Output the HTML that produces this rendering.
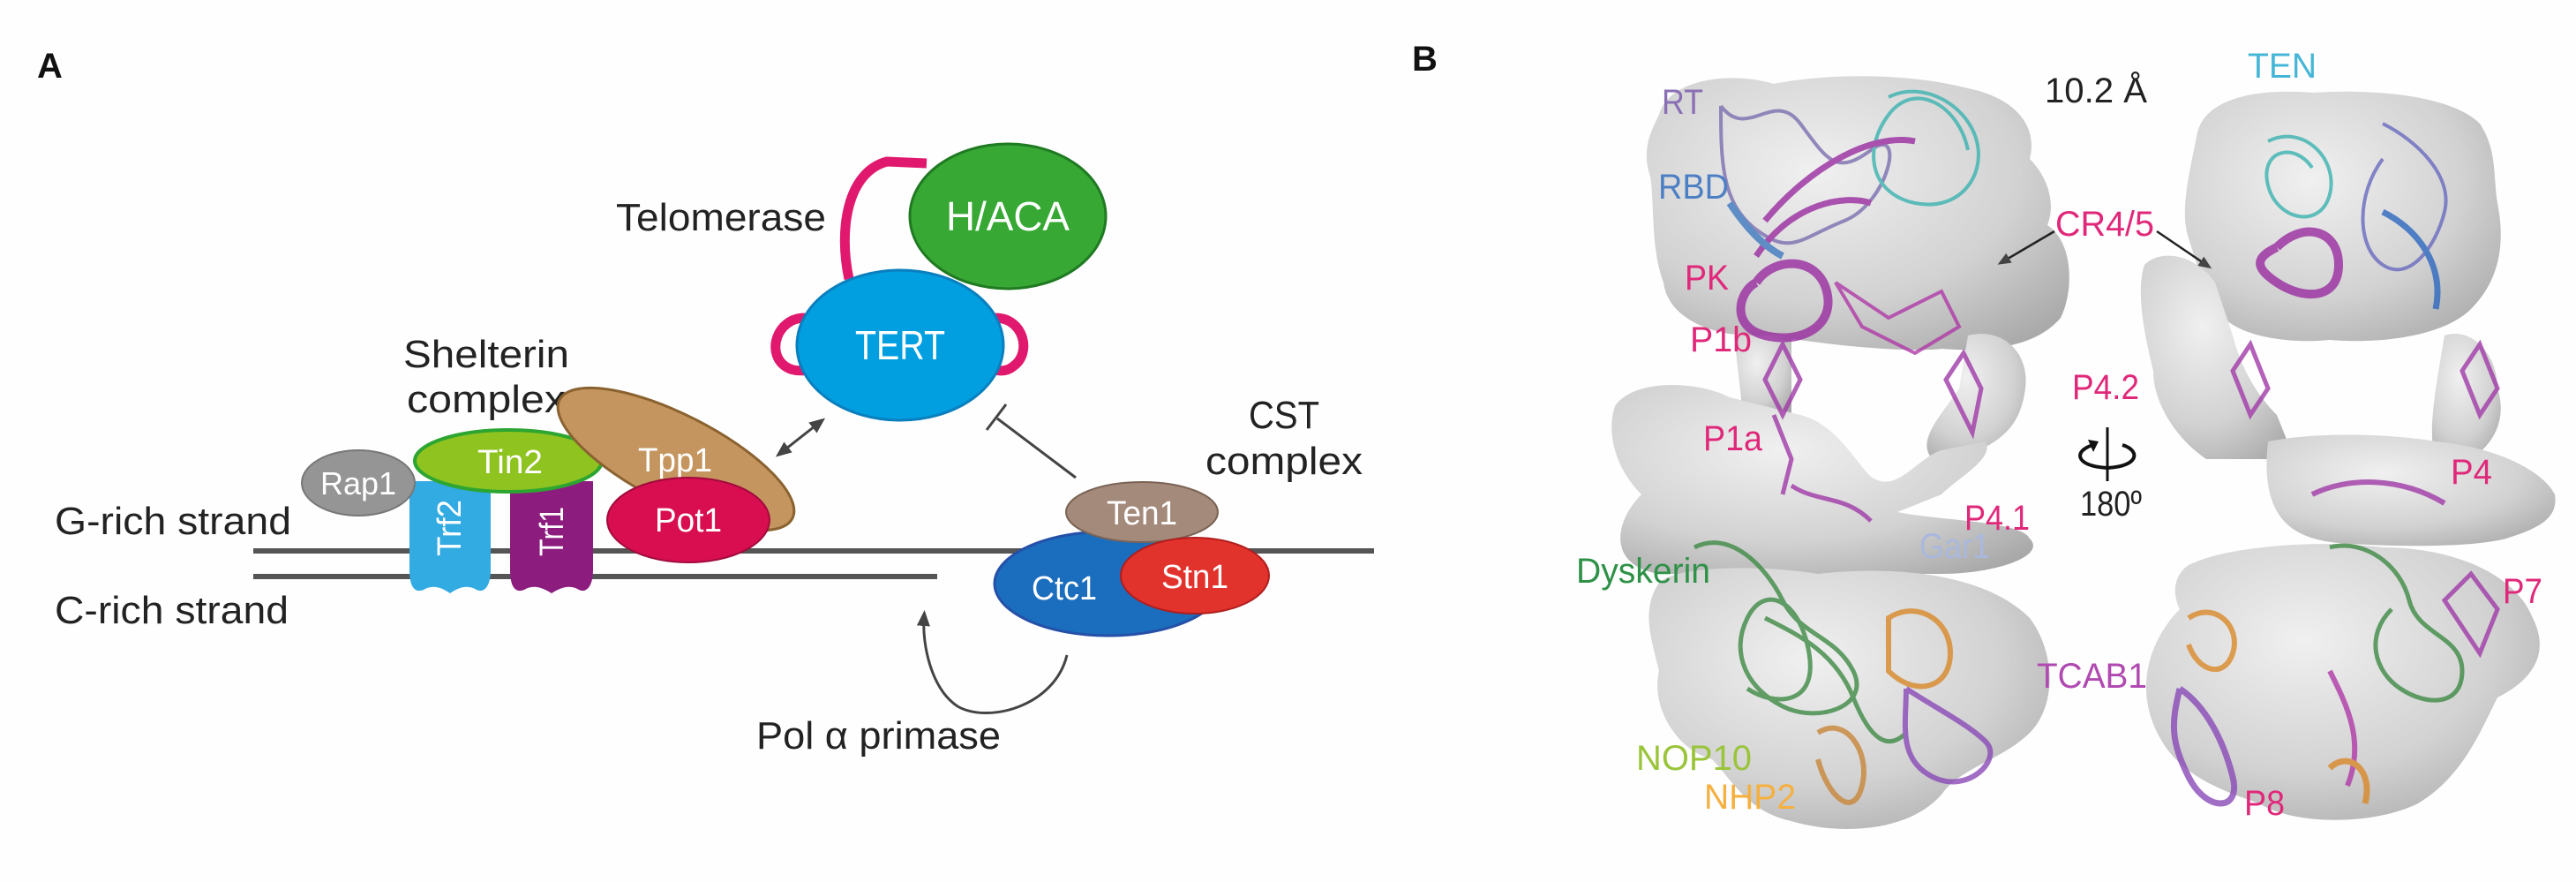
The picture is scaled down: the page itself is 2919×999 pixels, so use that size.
<!DOCTYPE html>
<html><head><meta charset="utf-8"><style>
html,body{margin:0;padding:0;background:#fefefe;}
svg{display:block;}
.a{font-family:"Liberation Sans",sans-serif;}
</style></head><body>
<svg width="2919" height="999" viewBox="0 0 2919 999" xmlns="http://www.w3.org/2000/svg">
<defs>
<radialGradient id="g" cx="0.4" cy="0.35" r="0.8">
<stop offset="0" stop-color="#f0f0f0"/><stop offset="0.6" stop-color="#d2d2d2"/><stop offset="1" stop-color="#a8a8a8"/>
</radialGradient>
<marker id="ah" markerWidth="6" markerHeight="6" refX="3" refY="3" orient="auto-start-reverse"><path d="M0,0.5 L6,3 L0,5.5 z" fill="#444"/></marker>
</defs>
<rect width="2919" height="999" fill="#fefefe"/>
<g class="a">
<text x="42" y="88" font-size="40" font-weight="bold" fill="#111">A</text>
<text x="1600" y="80" font-size="40" font-weight="bold" fill="#111">B</text>

<!-- DNA strands -->
<line x1="287" y1="624" x2="1557" y2="624" stroke="#555" stroke-width="6"/>
<line x1="287" y1="653" x2="1062" y2="653" stroke="#555" stroke-width="6"/>
<text x="62" y="605" font-size="44" fill="#222" textLength="268" lengthAdjust="spacingAndGlyphs">G-rich strand</text>
<text x="62" y="706" font-size="44" fill="#222" textLength="265" lengthAdjust="spacingAndGlyphs">C-rich strand</text>

<!-- telomerase -->
<path d="M962 316 C950 260 960 195 1005 183 L1050 185" fill="none" stroke="#e0196e" stroke-width="11"/>
<path d="M912 360 C880 360 868 400 890 415 C900 422 912 420 920 418" fill="none" stroke="#e0196e" stroke-width="11"/>
<path d="M1128 360 C1160 360 1170 400 1148 415 C1140 422 1130 420 1122 418" fill="none" stroke="#e0196e" stroke-width="11"/>
<ellipse cx="1142" cy="245" rx="111" ry="82" fill="#37a833" stroke="#1f7a22" stroke-width="3"/>
<text x="1142" y="261" font-size="46" fill="#fff" text-anchor="middle" textLength="140" lengthAdjust="spacingAndGlyphs">H/ACA</text>
<ellipse cx="1020" cy="391" rx="117" ry="85" fill="#019ee0" stroke="#0a7fbe" stroke-width="3"/>
<text x="1020" y="407" font-size="46" fill="#fff" text-anchor="middle" textLength="102" lengthAdjust="spacingAndGlyphs">TERT</text>
<text x="698" y="261" font-size="44" fill="#222" textLength="238" lengthAdjust="spacingAndGlyphs">Telomerase</text>

<!-- shelterin -->
<text x="551" y="416" font-size="44" fill="#222" text-anchor="middle" textLength="188" lengthAdjust="spacingAndGlyphs">Shelterin</text>
<text x="551" y="467" font-size="44" fill="#222" text-anchor="middle" textLength="180" lengthAdjust="spacingAndGlyphs">complex</text>
<path d="M464 545 L556 545 L556 645 C556 665 548 672 540 668 C530 662 520 665 510 672 C500 665 490 662 480 668 C470 672 464 665 464 645 Z" fill="#32aae2"/>
<text transform="translate(522,630) rotate(-90)" font-size="38" fill="#fff" textLength="64" lengthAdjust="spacingAndGlyphs">Trf2</text>
<path d="M578 545 L672 545 L672 645 C672 665 664 672 656 668 C646 662 636 665 625 672 C614 665 604 662 594 668 C584 672 578 665 578 645 Z" fill="#8c1c7e"/>
<text transform="translate(638,630) rotate(-90)" font-size="38" fill="#fff" textLength="56" lengthAdjust="spacingAndGlyphs">Trf1</text>
<ellipse cx="406" cy="547" rx="64" ry="37" fill="#959595" stroke="#777" stroke-width="2"/>
<text x="406" y="560" font-size="36" fill="#fff" text-anchor="middle" textLength="86" lengthAdjust="spacingAndGlyphs">Rap1</text>
<ellipse cx="576" cy="522" rx="106" ry="35" fill="#8fc320" stroke="#2da531" stroke-width="4"/>
<text x="578" y="536" font-size="38" fill="#fff" text-anchor="middle" textLength="74" lengthAdjust="spacingAndGlyphs">Tin2</text>
<ellipse cx="766" cy="520" rx="148" ry="50" transform="rotate(27 766 520)" fill="#c5955f" stroke="#8a6230" stroke-width="3"/>
<text x="765" y="534" font-size="38" fill="#fff" text-anchor="middle" textLength="84" lengthAdjust="spacingAndGlyphs">Tpp1</text>
<ellipse cx="780" cy="589" rx="92" ry="48" fill="#d80e50" stroke="#a10a3c" stroke-width="2"/>
<text x="780" y="602" font-size="38" fill="#fff" text-anchor="middle" textLength="76" lengthAdjust="spacingAndGlyphs">Pot1</text>

<!-- arrows -->
<line x1="886" y1="512" x2="928" y2="479" stroke="#444" stroke-width="3" marker-start="url(#ah)" marker-end="url(#ah)"/>
<line x1="1219" y1="541" x2="1130" y2="474" stroke="#444" stroke-width="3"/>
<line x1="1118" y1="487" x2="1140" y2="458" stroke="#444" stroke-width="3"/>
<path d="M1209 742 C1195 800 1120 820 1085 800 C1055 780 1045 730 1047 700" fill="none" stroke="#444" stroke-width="3" marker-end="url(#ah)"/>
<text x="857" y="848" font-size="44" fill="#222" textLength="277" lengthAdjust="spacingAndGlyphs">Pol α primase</text>

<!-- CST -->
<text x="1455" y="485" font-size="44" fill="#222" text-anchor="middle" textLength="80" lengthAdjust="spacingAndGlyphs">CST</text>
<text x="1455" y="537" font-size="44" fill="#222" text-anchor="middle" textLength="178" lengthAdjust="spacingAndGlyphs">complex</text>
<ellipse cx="1256" cy="661" rx="129" ry="59" fill="#1b6dbd" stroke="#2450a8" stroke-width="3"/>
<text x="1206" y="679" font-size="38" fill="#fff" text-anchor="middle" textLength="74" lengthAdjust="spacingAndGlyphs">Ctc1</text>
<ellipse cx="1294" cy="580" rx="86" ry="34" fill="#a48a7b" stroke="#7a6355" stroke-width="2"/>
<text x="1294" y="594" font-size="38" fill="#fff" text-anchor="middle" textLength="80" lengthAdjust="spacingAndGlyphs">Ten1</text>
<ellipse cx="1354" cy="652" rx="84" ry="43" fill="#e2322c" stroke="#b01e1e" stroke-width="2"/>
<text x="1354" y="666" font-size="38" fill="#fff" text-anchor="middle" textLength="76" lengthAdjust="spacingAndGlyphs">Stn1</text>

<!-- Panel B left structure -->
<g fill="url(#g)">
<path d="M1880 130 C1890 90 1960 80 2010 95 C2060 85 2150 80 2230 100 C2280 110 2310 140 2300 180 C2320 200 2330 230 2320 255 C2350 275 2350 330 2335 360 C2310 390 2260 400 2200 395 C2160 400 2060 390 2010 380 C1940 385 1890 360 1885 320 C1870 280 1875 230 1870 200 C1860 170 1870 150 1880 130 Z"/>
<path d="M1965 380 L2030 380 L2030 470 L1975 470 Z"/>
<path d="M2230 380 C2270 370 2300 400 2295 440 C2290 480 2270 500 2230 515 L2190 520 C2170 500 2200 470 2220 440 Z"/>
<path d="M1830 460 C1850 430 1920 430 1960 450 L2040 470 C2080 480 2100 520 2120 540 C2150 560 2170 520 2200 510 L2250 500 C2260 520 2220 540 2200 560 L2150 580 C2200 590 2290 590 2300 610 C2320 630 2260 650 2200 650 L1880 650 C1820 640 1830 590 1860 560 C1830 530 1820 490 1830 460 Z"/>
<path d="M1880 660 C1900 640 2000 640 2060 650 C2150 640 2250 650 2300 700 C2330 740 2330 800 2300 830 C2270 860 2220 870 2200 900 C2160 945 2080 945 2030 930 C1980 920 1960 880 1940 860 C1900 850 1870 800 1880 760 C1870 720 1860 690 1880 660 Z"/>
</g>
<!-- Panel B right structure -->
<g fill="url(#g)">
<path d="M2490 150 C2500 110 2560 100 2620 105 C2700 100 2780 110 2810 140 C2830 170 2825 200 2830 230 C2840 280 2830 320 2800 350 C2770 380 2700 390 2640 385 C2590 390 2540 380 2520 360 C2500 340 2490 300 2480 270 C2470 240 2480 200 2490 150 Z"/>
<path d="M2430 300 C2450 280 2490 290 2510 320 L2530 380 C2540 420 2560 450 2580 470 L2600 520 L2500 520 C2470 500 2440 460 2440 420 C2430 380 2420 330 2430 300 Z"/>
<path d="M2770 380 C2800 370 2830 400 2830 440 C2840 470 2830 500 2800 520 L2760 520 C2750 490 2760 440 2770 380 Z"/>
<path d="M2570 500 C2620 490 2700 490 2760 500 C2820 505 2880 530 2895 560 C2900 590 2870 600 2840 610 C2800 620 2720 620 2650 615 C2600 610 2560 590 2570 500 Z"/>
<path d="M2480 640 C2520 620 2620 610 2700 620 C2780 620 2850 650 2870 700 C2890 740 2870 770 2830 790 C2810 830 2790 880 2740 910 C2690 935 2600 935 2560 910 C2500 890 2460 870 2440 820 C2420 770 2440 720 2470 690 C2460 670 2465 650 2480 640 Z"/>
</g>
<!-- ribbon scribbles -->
<g fill="none" stroke-width="4" opacity="0.8">
<path d="M1950 120 c30 40 60 -20 90 20 s40 60 80 30 s20 60 -30 80 s-60 40 -100 10 s-40 -80 -40 -140" stroke="#7d6fb0"/>
<path d="M2140 110 c40 -20 90 10 100 50 s-20 80 -70 70 s-60 -60 -30 -100 s80 -10 90 40" stroke="#3ab3b0"/>
<path d="M2000 250 c50 -60 120 -100 170 -90 M1990 290 c40 -60 100 -70 130 -60" stroke="#9a2ca0" stroke-width="7"/>
<path d="M1990 320 c20 -30 70 -30 80 10 s-30 60 -70 50 s-30 -50 -10 -60" stroke="#9a2ca0" stroke-width="10"/>
<path d="M2080 320 l60 40 l60 -30 l20 40 l-50 30 l-60 -30 z" stroke="#b03aa8"/>
<path d="M1960 230 c20 30 40 50 60 60" stroke="#3f79c0" stroke-width="8"/>
<path d="M2000 430 l20 -40 l20 40 l-20 40 z M2010 470 l20 50 l-10 40" stroke="#a03aa8" stroke-width="5"/>
<path d="M2205 430 l20 -30 l20 40 l-10 50 z" stroke="#a03aa8" stroke-width="5"/>
<path d="M2030 550 c30 20 60 10 90 40" stroke="#a03aa8" stroke-width="5"/>
<path d="M1920 620 c40 -20 80 20 100 60 s60 40 80 80 s-40 60 -80 40 s-60 -60 -40 -100 s60 -20 70 40 s-40 60 -70 40" stroke="#3f8a45" stroke-width="5"/>
<path d="M2000 700 c40 20 80 40 100 90 s40 60 60 40" stroke="#3f8a45" stroke-width="5"/>
<path d="M2140 700 c30 -20 70 0 70 40 s-40 50 -70 20 z" stroke="#d9892a" stroke-width="6"/>
<path d="M2060 830 c30 -20 60 20 50 60 s-40 10 -50 -30" stroke="#c8873a" stroke-width="6"/>
<path d="M2160 780 c30 20 70 40 90 60 s-20 60 -60 40 s-30 -60 -30 -100" stroke="#8a4ab8" stroke-width="6"/>
<path d="M2570 160 c40 -20 80 20 70 60 s-60 30 -70 -10 s30 -50 50 -20" stroke="#3ab3b0"/>
<path d="M2700 140 c40 20 80 60 70 100 s-40 80 -70 60 s-30 -80 0 -120" stroke="#6a6ac0"/>
<path d="M2700 240 c40 20 70 60 60 110" stroke="#2e68c0" stroke-width="7"/>
<path d="M2580 280 c30 -30 70 -20 70 20 s-40 40 -70 20 s-20 -30 0 -40" stroke="#9a2ca0" stroke-width="10"/>
<path d="M2530 420 l20 -30 l20 50 l-20 30 z M2790 420 l20 -30 l20 50 l-20 30 z" stroke="#a03aa8" stroke-width="5"/>
<path d="M2620 560 c40 -20 100 -20 150 10" stroke="#a03aa8" stroke-width="6"/>
<path d="M2640 620 c40 -10 80 20 90 60 s60 40 60 80 s-40 40 -70 20 s-40 -60 -10 -90" stroke="#3f8a45" stroke-width="5"/>
<path d="M2480 700 c30 -20 60 10 50 40 s-40 20 -50 -10" stroke="#d9892a" stroke-width="6"/>
<path d="M2470 780 c30 20 50 60 60 100 s-30 40 -50 0 s-20 -60 -10 -100" stroke="#8a4ab8" stroke-width="7"/>
<path d="M2640 760 c20 40 40 80 20 130" stroke="#b03aa8" stroke-width="6"/>
<path d="M2640 870 c20 -20 50 0 40 40" stroke="#d9892a" stroke-width="7"/>
<path d="M2770 680 l30 -30 l30 40 l-20 50 z" stroke="#a03aa8" stroke-width="5"/>
</g>
<!-- pointer arrows -->
<line x1="2328" y1="262" x2="2270" y2="296" stroke="#222" stroke-width="2.5" marker-end="url(#ah)"/>
<line x1="2444" y1="262" x2="2500" y2="300" stroke="#222" stroke-width="2.5" marker-end="url(#ah)"/>
<!-- rotation icon -->
<line x1="2388" y1="484" x2="2388" y2="545" stroke="#111" stroke-width="3"/>
<path d="M2372 504 C2350 510 2350 528 2388 530 C2425 528 2425 510 2405 504" fill="none" stroke="#111" stroke-width="4"/>
<path d="M2366 498 l12 2 l-6 12 z" fill="#111"/>

<g font-size="40">
<text x="2317" y="116" fill="#222" textLength="116" lengthAdjust="spacingAndGlyphs">10.2 Å</text>
<text x="2547" y="88" fill="#46b6d8" textLength="78" lengthAdjust="spacingAndGlyphs">TEN</text>
<text x="1883" y="129" fill="#8a6fb5" textLength="47" lengthAdjust="spacingAndGlyphs">RT</text>
<text x="1879" y="225" fill="#4d7fc4" textLength="80" lengthAdjust="spacingAndGlyphs">RBD</text>
<text x="2329" y="267" fill="#e0287a" textLength="112" lengthAdjust="spacingAndGlyphs">CR4/5</text>
<text x="1909" y="328" fill="#e0287a" textLength="50" lengthAdjust="spacingAndGlyphs">PK</text>
<text x="1915" y="398" fill="#e0287a" textLength="70" lengthAdjust="spacingAndGlyphs">P1b</text>
<text x="2348" y="452" fill="#e0287a" textLength="76" lengthAdjust="spacingAndGlyphs">P4.2</text>
<text x="1930" y="510" fill="#e0287a" textLength="67" lengthAdjust="spacingAndGlyphs">P1a</text>
<text x="2226" y="600" fill="#e0287a" textLength="74" lengthAdjust="spacingAndGlyphs">P4.1</text>
<text x="2175" y="632" fill="#a9b8dc" textLength="80" lengthAdjust="spacingAndGlyphs">Gar1</text>
<text x="1786" y="660" fill="#2e9147" textLength="152" lengthAdjust="spacingAndGlyphs">Dyskerin</text>
<text x="2308" y="779" fill="#b04ab0" textLength="125" lengthAdjust="spacingAndGlyphs">TCAB1</text>
<text x="1854" y="872" fill="#9ac43a" textLength="131" lengthAdjust="spacingAndGlyphs">NOP10</text>
<text x="1931" y="916" fill="#f5b040" textLength="104" lengthAdjust="spacingAndGlyphs">NHP2</text>
<text x="2357" y="584" fill="#222" textLength="70" lengthAdjust="spacingAndGlyphs">180º</text>
<text x="2777" y="548" fill="#e0287a" textLength="47" lengthAdjust="spacingAndGlyphs">P4</text>
<text x="2836" y="683" fill="#e0287a" textLength="45" lengthAdjust="spacingAndGlyphs">P7</text>
<text x="2543" y="923" fill="#e0287a" textLength="46" lengthAdjust="spacingAndGlyphs">P8</text>
</g>
</g>
</svg>
</body></html>
